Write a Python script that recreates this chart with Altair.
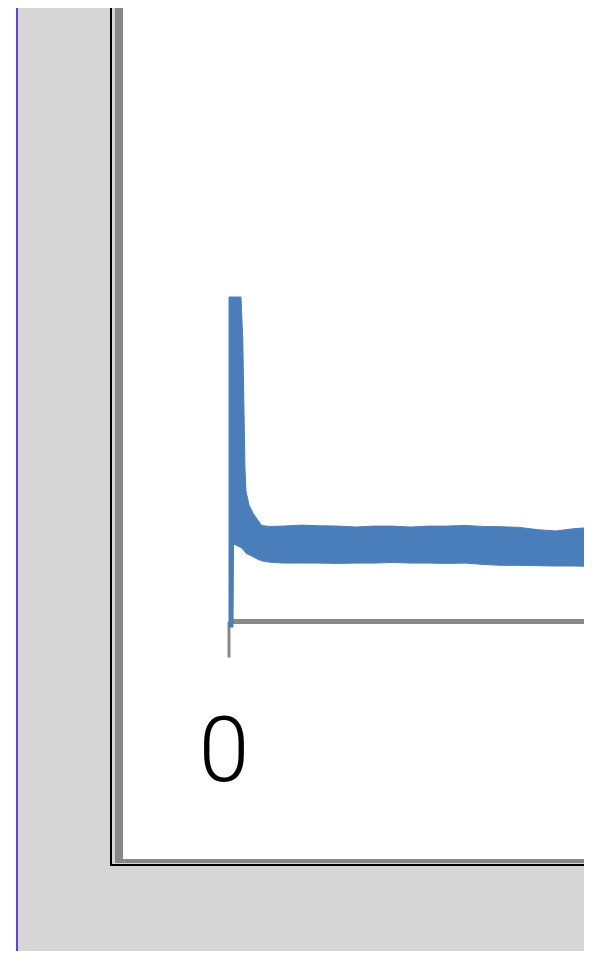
import altair as alt
import pandas as pd

# ---- data ----
# time axis (arbitrary units), upper / lower envelope of the noisy signal
t = [0, 1.1, 1.25, 3.3, 3.8, 4.4, 4.7, 5.5, 6.6, 7.7, 9, 11, 15,
     20, 25, 30, 35, 40, 45, 50, 55, 60, 65, 70, 75, 80, 85, 90, 95, 100]
upper = [100, 100, 100, 100, 87, 47, 40, 36, 33.4, 31.6, 29.6, 29.3, 29.4,
         29.7, 29.5, 29.4, 29.1, 29.4, 29.4, 29.1, 29.4, 29.4, 29.6, 29.3,
         29.2, 29.0, 28.3, 27.9, 28.6, 29.0]
lower = [-1.7, -1.7, 23.9, 22.8, 22.3, 21.5, 21.0, 20.6, 20.0, 19.3, 18.7, 18.3, 18.0,
         18.0, 18.0, 17.9, 18.0, 18.0, 18.2, 18.0, 18.0, 17.9, 18.0, 17.6,
         17.3, 17.3, 17.2, 17.1, 17.1, 17.0]
tick_values = [0]
tick_labels = ["0"]
axis_start = [0]
axis_end = [110]

BLUE = "#4a7ebb"
GRAY = "#888888"
DOTS = "#d6d6d6"
PURPLE = "#6a40d0"

W, H = 576, 943
PX_X, PX_Y = 3.63, 3.245       # pixels per data unit
X0, Y0 = 221, 613.5            # pixel position of the data origin
xs = alt.Scale(domain=[-X0 / PX_X, (W - X0) / PX_X], nice=False, zero=False)
ys = alt.Scale(domain=[-(H - Y0) / PX_Y, Y0 / PX_Y], nice=False, zero=False)

sig = pd.DataFrame({"t": t, "upper": upper, "lower": lower})
axdf = pd.DataFrame({"x": axis_start, "x2": axis_end, "y": [0]})
tkdf = pd.DataFrame({"x": tick_values, "y": [0], "y2": [-36 / PX_Y],
                     "ly": [-159.5 / PX_Y], "label": tick_labels})

one = alt.Data(values=[{}])


def box(x, x2, y, y2, color):
    return alt.Chart(one).mark_rect(color=color, strokeWidth=0).encode(
        x=alt.value(x), x2=alt.value(x2), y=alt.value(y), y2=alt.value(y2)
    )


frame = [
    box(8, 620, -20, 951, PURPLE),
    box(10, 620, -20, 949, DOTS),
    box(102, 620, -20, 858, "#000000"),
    box(104, 620, -20, 856, DOTS),
    box(107, 620, -20, 855, GRAY),
    box(115, 620, -20, 851, "#ffffff"),
]

axis_line = alt.Chart(axdf).mark_rule(color=GRAY, strokeWidth=5).encode(
    x=alt.X("x:Q", scale=xs, axis=None),
    x2="x2:Q",
    y=alt.Y("y:Q", scale=ys, axis=None),
)

tick = alt.Chart(tkdf).mark_rule(color=GRAY, strokeWidth=3).encode(
    x=alt.X("x:Q", scale=xs, axis=None),
    y=alt.Y("y:Q", scale=ys, axis=None),
    y2="y2:Q",
)

label = alt.Chart(tkdf).mark_text(
    fontSize=91,
    font="Roboto, Liberation Sans, Arial",
    fontWeight=300,
    color="#000000",
    align="center",
    baseline="alphabetic",
    dx=-5,
).encode(
    x=alt.X("x:Q", scale=xs, axis=None),
    y=alt.Y("ly:Q", scale=ys, axis=None),
    text="label:N",
)

area = alt.Chart(sig).mark_area(color=BLUE, stroke=BLUE, strokeWidth=1, opacity=1).encode(
    x=alt.X("t:Q", scale=xs, axis=None),
    y=alt.Y("upper:Q", scale=ys, axis=None),
    y2="lower:Q",
)

chart = alt.layer(*frame, axis_line, tick, area, label).properties(
    width=W,
    height=H,
    autosize=alt.AutoSizeParams(type="none"),
    padding=0,
    background="#ffffff",
).configure_view(stroke="transparent")

chart.save("out.html", embed_options={"renderer": "svg", "actions": False})
